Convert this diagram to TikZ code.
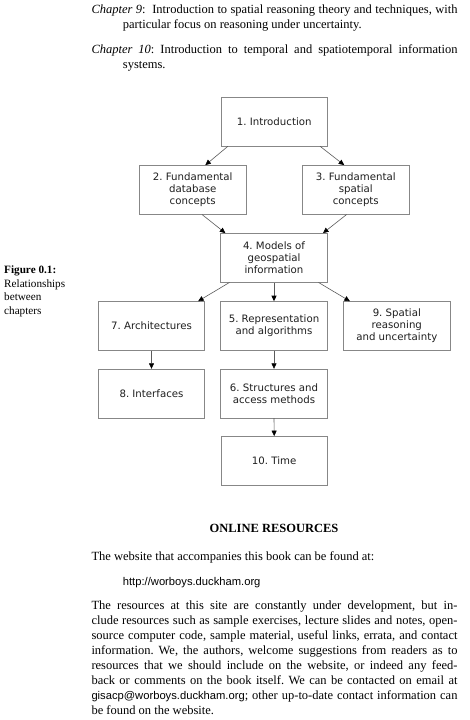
\documentclass[tikz,border=0pt]{standalone}
\usepackage{fontspec}
\setmainfont{Liberation Serif}
\setsansfont{Liberation Sans}
\newfontfamily\boxfont{DejaVu Sans}
\usetikzlibrary{arrows.meta,calc}
\definecolor{boxgray}{RGB}{135,135,135}
\definecolor{linegray}{RGB}{90,90,90}
\definecolor{boxtext}{RGB}{30,30,30}
\frenchspacing
\tikzset{
  chap/.style={draw=boxgray, line width=0.7pt, minimum width=106.5pt, minimum height=48.7pt,
    inner sep=0pt, align=center, font=\boxfont\fontsize{10.2}{12.2}\selectfont, text=boxtext},
  conn/.style={draw=linegray, line width=0.6pt, -{Triangle[length=5.5pt,width=5pt,color=black]}},
  bodytxt/.style={anchor=base west, inner sep=0pt, font=\fontsize{12.5}{15}\selectfont},
  headtxt/.style={anchor=base, inner sep=0pt, font=\fontsize{12.5}{15}\selectfont\bfseries},
  urltxt/.style={anchor=base west, inner sep=0pt, font=\sffamily\fontsize{11.2}{13.5}\selectfont},
  figcap/.style={anchor=base west, inner sep=0pt, font=\fontsize{11.2}{13.5}\selectfont},
}
\newcommand{\jline}[1]{\makebox[366pt][s]{#1}}
\begin{document}
\frenchspacing
\begin{tikzpicture}[x=1pt,y=-1pt]
\useasboundingbox (0,0) rectangle (469,720);

% top text
\node[bodytxt] (t1) at (91.3,13) {\jline{\textit{Chapter 9}:\ \ Introduction to spatial reasoning theory and techniques, with}};
\node[bodytxt] (t2) at (122.7,28) {particular focus on reasoning under uncertainty.};
\node[bodytxt] (t3) at (91.3,53.5) {\jline{\textit{Chapter 10}: Introduction to temporal and spatiotemporal information}};
\node[bodytxt] (t4) at (122.7,68.5) {systems.};

% caption
\node[figcap] (c1) at (4,273) {\textbf{Figure 0.1:}};
\node[figcap] (c2) at (4,287) {Relationships};
\node[figcap] (c3) at (4,300.7) {between};
\node[figcap] (c4) at (4,314.5) {chapters};

% boxes
\node[chap] (b1) at (274.2,121.6) {1. Introduction};
\node[chap] (b2) at (192.7,189.8) {2. Fundamental\\database\\concepts};
\node[chap] (b3) at (355.8,189.8) {3. Fundamental\\spatial\\concepts};
\node[chap] (b4) at (274,257.8) {4. Models of\\geospatial\\information};
\node[chap] (b7) at (151.5,325.9) {7. Architectures};
\node[chap] (b5) at (274,325.9) {5. Representation\\and algorithms};
\node[chap] (b9) at (396.8,325.9) {9. Spatial\\reasoning\\and uncertainty};
\node[chap] (b8) at (151.5,393.5) {8. Interfaces};
\node[chap] (b6) at (274,393.5) {6. Structures and\\access methods};
\node[chap] (b10) at (274.2,460.8) {10. Time};

% connectors
\draw[conn] ($(b1.south west)+(7.3,0)$) -- ($(b2.north east)+(-41,0)$);
\draw[conn] ($(b1.south east)+(-7.7,0)$) -- ($(b3.north west)+(42,0)$);
\draw[conn] ($(b2.south east)+(-44.3,0)$) -- ($(b4.north west)+(5,0)$);
\draw[conn] ($(b3.south west)+(44.4,0)$) -- ($(b4.north east)+(-4.6,0)$);
\draw[conn] ($(b4.south west)+(9,0)$) -- ($(b7.north east)+(-7,0)$);
\draw[conn] (b4.south) -- (b5.north);
\draw[conn] ($(b4.south east)+(-9,0)$) -- ($(b9.north west)+(6.7,0)$);
\draw[conn] (b7.south) -- (b8.north);
\draw[conn] (b5.south) -- (b6.north);
\draw[conn] (b6.south) -- (b10.north);

% online resources
\node[headtxt] (h) at (274,532.3) {ONLINE RESOURCES};
\node[bodytxt] (p0) at (91.3,560) {The website that accompanies this book can be found at:};
\node[urltxt] (u) at (122.7,585) {http://worboys.duckham.org};
\node[bodytxt] (p1) at (91.3,609) {\jline{The resources at this site are constantly under development, but in-}};
\node[bodytxt] (p2) at (91.3,624.1) {\jline{clude resources such as sample exercises, lecture slides and notes, open-}};
\node[bodytxt] (p3) at (91.3,639.2) {\jline{source computer code, sample material, useful links, errata, and contact}};
\node[bodytxt] (p4) at (91.3,654.3) {\jline{information. We, the authors, welcome suggestions from readers as to}};
\node[bodytxt] (p5) at (91.3,669.4) {\jline{resources that we should include on the website, or indeed any feed-}};
\node[bodytxt] (p6) at (91.3,684.5) {\jline{back or comments on the book itself. We can be contacted on email at}};
\node[bodytxt] (p7) at (91.3,699.6) {\jline{{\sffamily\fontsize{11.2}{13.5}\selectfont gisacp@worboys.duckham.org}; other up-to-date contact information can}};
\node[bodytxt] (p8) at (91.3,714.7) {be found on the website.};
\end{tikzpicture}
\end{document}
